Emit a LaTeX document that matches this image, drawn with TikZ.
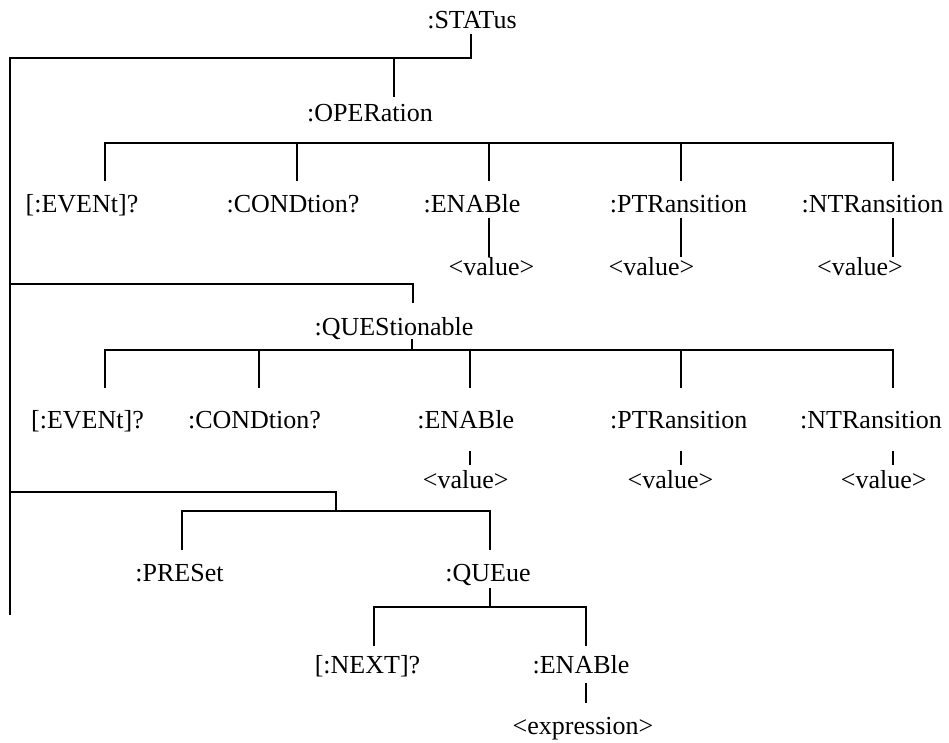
\documentclass[tikz,border=0pt]{standalone}
\usepackage{fontspec}
\setmainfont{Liberation Serif}

\tikzset{
  cmd/.style={anchor=base, inner xsep=0pt, inner ysep=4pt, font=\fontsize{26}{31}\selectfont},
  wire/.style={line width=1.6pt},
}

\begin{document}
\begin{tikzpicture}[x=1pt, y=-1pt]
  \useasboundingbox (0,0) rectangle (949,743);

  % root
  \node[cmd] (stat) at (472,29) {:STATus};
  \coordinate (rtop) at (10,58);
  \coordinate (rbot) at (10,615);
  \coordinate (sj) at (471,58);
  \draw[wire] (stat.south -| sj) -- (sj) -- (rtop) -- (rbot);

  % :OPERation
  \node[cmd] (oper) at (370,122) {:OPERation};
  \coordinate (oj) at (394,58);
  \draw[wire] (oj) -- (394,97);
  \node[cmd] (oevt) at (82,213) {[:EVENt]?};
  \node[cmd] (ocnd) at (293,213) {:CONDtion?};
  \node[cmd] (oena) at (472,213) {:ENABle};
  \node[cmd] (optr) at (678.5,213) {:PTRansition};
  \node[cmd] (ontr) at (872.5,213) {:NTRansition};
  \node[cmd] (oenav) at (491.5,275) {<value>};
  \node[cmd] (optrv) at (651.5,275) {<value>};
  \node[cmd] (ontrv) at (860,275) {<value>};
  \draw[wire] (105,181) -- (105,143) -- (893,143) -- (893,181);
  \foreach \x in {297,489,681}
    \draw[wire] (\x,143) -- ++(0,38);
  \foreach \x in {489,681,893}
    \draw[wire] (\x,218) -- ++(0,39);

  % :QUEStionable
  \node[cmd] (ques) at (394,335) {:QUEStionable};
  \coordinate (qj) at (10,284);
  \draw[wire] (qj) -- (413,284) -- (413,303);
  \draw[wire] (412,339) -- (412,350);
  \node[cmd] (qevt) at (87.5,428) {[:EVENt]?};
  \node[cmd] (qcnd) at (254.5,428) {:CONDtion?};
  \node[cmd] (qena) at (465.7,428) {:ENABle};
  \node[cmd] (qptr) at (678.7,428) {:PTRansition};
  \node[cmd] (qntr) at (871,428) {:NTRansition};
  \node[cmd] (qenav) at (465.7,488) {<value>};
  \node[cmd] (qptrv) at (670.5,488) {<value>};
  \node[cmd] (qntrv) at (883.7,488) {<value>};
  \draw[wire] (105,388) -- (105,350) -- (893,350) -- (893,388);
  \foreach \x in {259,470,681}
    \draw[wire] (\x,350) -- ++(0,38);
  \foreach \x in {470,681,893}
    \draw[wire] (\x,451) -- ++(0,14);

  % :PRESet and :QUEue
  \coordinate (pj) at (10,492);
  \draw[wire] (pj) -- (336,492) -- (336,511);
  \node[cmd] (pres) at (179.5,581) {:PRESet};
  \node[cmd] (queu) at (488,581) {:QUEue};
  \draw[wire] (182,550) -- (182,511) -- (490,511) -- (490,550);
  \draw[wire] (490,588) -- (490,607);
  \node[cmd] (next) at (367.5,673) {[:NEXT]?};
  \node[cmd] (uena) at (581,673) {:ENABle};
  \node[cmd] (expr) at (583,734) {<expression>};
  \draw[wire] (374,646) -- (374,607) -- (586,607) -- (586,646);
  \draw[wire] (586,683) -- (586,703);
\end{tikzpicture}
\end{document}
